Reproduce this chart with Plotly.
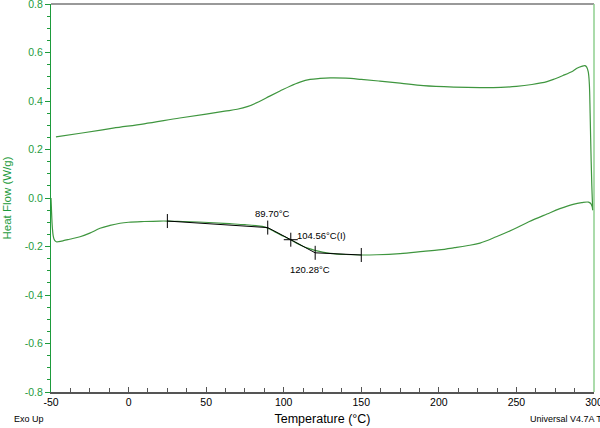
import plotly.graph_objects as go

# heating curve (lower trace), temperature in degC and heat flow in W/g
heat_temp = [-50, -49.8, -49.5, -49.1, -48.6, -48, -47.2, -46.3, -45, -42, -38, -31.3, -25,
             -18.4, -12, -5.5, 0, 10, 20, 25, 35, 45, 55, 65, 75, 82, 88, 92, 96, 100,
             104.5, 108, 112, 116, 120, 125, 130, 140, 150, 160, 175, 190, 200, 210, 218,
             226.5, 237, 247.8, 258, 269.7, 278, 286.5, 292, 296.5, 298.2, 299.2]
heat_flow = [0.0, -0.03, -0.08, -0.125, -0.155, -0.17, -0.178, -0.181, -0.18, -0.176, -0.17,
             -0.16, -0.145, -0.125, -0.113, -0.104, -0.1, -0.097, -0.095, -0.095, -0.097,
             -0.099, -0.102, -0.106, -0.11, -0.114, -0.12, -0.132, -0.145, -0.158, -0.172,
             -0.185, -0.198, -0.208, -0.216, -0.223, -0.228, -0.233, -0.235, -0.234, -0.229,
             -0.22, -0.214, -0.205, -0.197, -0.186, -0.16, -0.13, -0.098, -0.066, -0.044,
             -0.026, -0.019, -0.017, -0.025, -0.05]

# cooling curve (upper trace)
cool_temp = [299.2, 298.6, 298, 297.5, 297, 296.3, 295.3, 294.2, 292, 289, 286.5, 280, 275,
             269.7, 260, 250, 240, 226.5, 210, 190, 175, 162, 150, 140, 130, 123.4, 117,
             110.5, 104, 97.6, 91, 84, 77, 70, 62, 50, 33, 10, -10, -30, -46.8]
cool_flow = [-0.05, 0.05, 0.2, 0.35, 0.47, 0.52, 0.54, 0.546, 0.543, 0.535, 0.524, 0.505,
             0.492, 0.48, 0.468, 0.46, 0.456, 0.455, 0.457, 0.463, 0.474, 0.482, 0.489,
             0.494, 0.495, 0.493, 0.489, 0.478, 0.461, 0.441, 0.42, 0.397, 0.378, 0.366,
             0.358, 0.346, 0.33, 0.306, 0.288, 0.268, 0.252]

# glass transition analysis: start limit, onset, inflection, end, end limit
tg_temp = [25, 89.70, 104.56, 120.28, 150]
tg_flow = [-0.095, -0.122, -0.172, -0.226, -0.235]
tg_labels = ["", "89.70°C", "104.56°C(I)", "120.28°C", ""]

x_ticks = [-50, 0, 50, 100, 150, 200, 250, 300]
y_ticks = [-0.8, -0.6, -0.4, -0.2, 0.0, 0.2, 0.4, 0.6, 0.8]

GREEN = "#1e9b3c"
CURVE = "#3f963f"
FONT = "Arial, Liberation Sans, sans-serif"

fig = go.Figure()
fig.add_trace(go.Scatter(x=heat_temp, y=heat_flow, mode="lines",
                         line=dict(color=CURVE, width=1.2), line_shape="spline"))
fig.add_trace(go.Scatter(x=cool_temp, y=cool_flow, mode="lines",
                         line=dict(color=CURVE, width=1.2), line_shape="spline"))
# tangent construction
fig.add_trace(go.Scatter(x=tg_temp, y=tg_flow, mode="lines",
                         line=dict(color="black", width=1)))
fig.add_trace(go.Scatter(x=tg_temp[:2] + tg_temp[3:], y=tg_flow[:2] + tg_flow[3:], mode="markers",
                         marker=dict(symbol="line-ns", size=10, line=dict(color="black", width=1))))
fig.add_trace(go.Scatter(x=[tg_temp[2]], y=[tg_flow[2]], mode="markers",
                         marker=dict(symbol="cross-thin", size=10, line=dict(color="black", width=1))))

# labels for onset, inflection, end
fig.add_annotation(x=tg_temp[1], y=tg_flow[1], text=tg_labels[1], showarrow=False,
                   xanchor="center", yanchor="bottom", xshift=5, yshift=7, font=dict(size=9.5))
fig.add_annotation(x=tg_temp[2], y=tg_flow[2], text=tg_labels[2], showarrow=False,
                   xanchor="left", yanchor="middle", xshift=4, yshift=4, font=dict(size=9.5))
fig.add_annotation(x=tg_temp[3], y=tg_flow[3], text=tg_labels[3], showarrow=False,
                   xanchor="center", yanchor="top", xshift=-5, yshift=-9, font=dict(size=9.5))

fig.add_annotation(x=-0.0724, y=-0.07, xref="paper", yref="paper", text="Exo Up",
                   showarrow=False, xanchor="left", yanchor="middle", font=dict(size=9))
fig.add_annotation(x=0.8785, y=-0.07, xref="paper", yref="paper", text="Universal V4.7A TA Instruments",
                   showarrow=False, xanchor="left", yanchor="middle", font=dict(size=9))

# frame: grey top, green right
fig.add_shape(type="line", xref="paper", yref="paper", x0=0, x1=1, y0=1, y1=1,
              line=dict(color="#777777", width=1.5))
fig.add_shape(type="line", xref="paper", yref="paper", x0=1, x1=1, y0=0, y1=1,
              line=dict(color="#8fcf8f", width=1.5))

fig.update_layout(
    width=600, height=428,
    margin=dict(l=51, r=6, t=4, b=36),
    plot_bgcolor="white", paper_bgcolor="white",
    showlegend=False,
    font=dict(family=FONT, size=11, color="black"),
)
fig.update_xaxes(
    range=[-50, 300], tickvals=x_ticks, ticktext=[str(v) for v in x_ticks],
    showgrid=False, zeroline=False,
    showline=True, linecolor="#555555", linewidth=1.5,
    ticks="inside", ticklen=5, tickcolor="#555555",
    minor=dict(dtick=12.5, ticks="inside", ticklen=4, tickcolor="#555555"),
    tickfont=dict(size=10.5, color="black"), ticklabeloverflow="allow",
    title=dict(text="Temperature (°C)", font=dict(size=12.5, color="black"), standoff=7),
    automargin=False,
)
fig.update_yaxes(
    range=[-0.8, 0.8], tickvals=y_ticks, ticktext=[f"{v:.1f}" for v in y_ticks],
    showgrid=False, zeroline=False,
    showline=True, linecolor=GREEN, linewidth=1.2,
    ticks="outside", ticklen=5, tickcolor=GREEN,
    minor=dict(dtick=0.05, ticks="outside", ticklen=3, tickcolor=GREEN),
    tickfont=dict(size=10.5, color=GREEN), ticklabeloverflow="allow",
    title=dict(text="Heat Flow (W/g)", font=dict(size=11.5, color=GREEN), standoff=10),
    automargin=False,
)

# the page's default body margin would push the figure off the window
fig.write_html("out.html", config={"displayModeBar": False},
               post_script="document.body.style.margin='0';")
